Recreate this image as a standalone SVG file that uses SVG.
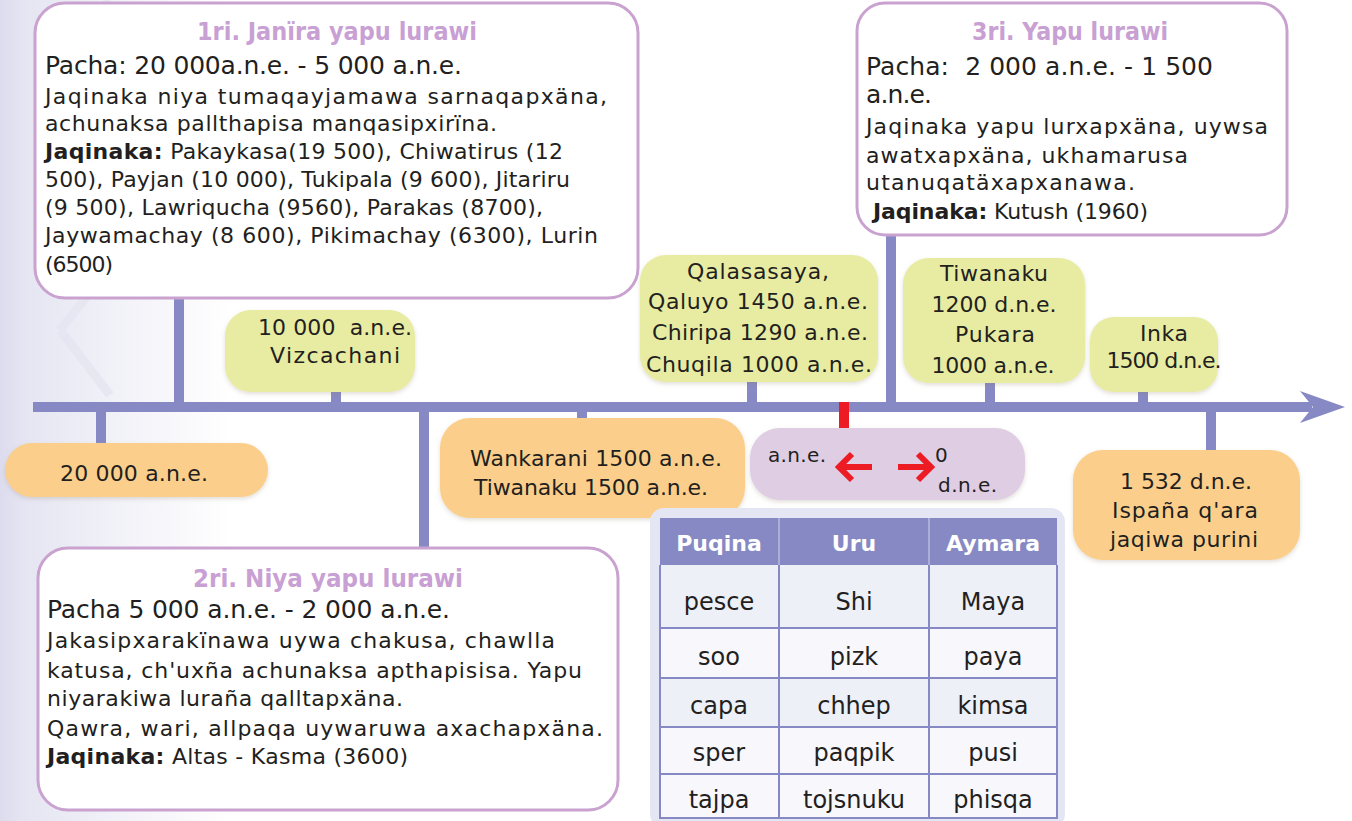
<svg xmlns="http://www.w3.org/2000/svg" width="1352" height="821" viewBox="0 0 1352 821">
<defs>
<linearGradient id="bgGrad" x1="0" y1="0" x2="1" y2="0">
<stop offset="0" stop-color="#dcdcee"/>
<stop offset="0.12" stop-color="#e6e6f3"/>
<stop offset="0.5" stop-color="#f1f1f8"/>
<stop offset="1" stop-color="#ffffff"/>
</linearGradient>
<filter id="soft" x="-10%" y="-10%" width="120%" height="130%">
<feDropShadow dx="0" dy="2" stdDeviation="2" flood-color="#8a7a60" flood-opacity="0.25"/>
</filter>
<style>
text{font-family:"DejaVu Sans","Liberation Sans",sans-serif;fill:#231f20}
.big{fill:#ffffff;stroke:#c9a2d0;stroke-width:3}
.title{fill:#c8a0d3;font-weight:bold;font-size:25px;text-anchor:middle}
.pacha{font-size:25px}
.body{font-size:22px}
.b{font-weight:bold}
.green{fill:#e8eca2}
.orange{fill:#fbcf8b}
.lbl{font-size:22px;text-anchor:middle}
.axis{fill:#8789c4}
.thead{fill:#8789c4}
.th{fill:#ffffff;font-weight:bold;font-size:22px;text-anchor:middle}
.td{font-size:24px;text-anchor:middle}
.grid{stroke:#8789c4;stroke-width:2;fill:none}
.redarrow{stroke:#ed1c24;stroke-width:6;fill:none}
.deco{fill:none;stroke:#e6e6f2;stroke-width:9;opacity:0.8}
</style>
</defs>

<rect x="0" y="0" width="1352" height="821" fill="#ffffff"/>
<rect x="0" y="0" width="230" height="821" fill="url(#bgGrad)"/>
<g class="deco">
<path d="M70,40 L110,0 M70,40 L130,110"/>
<path d="M100,150 L60,200 L100,250 L140,200 Z"/>
<path d="M60,330 L100,280 M60,330 L110,395"/>
<path d="M90,560 L50,610 L90,660 L130,610 Z"/>
<path d="M60,740 L100,690 M60,740 L110,810"/>
</g>

<g id="connectors">
<rect class="axis" x="33" y="402" width="1279" height="10"/>
<polygon class="axis" points="1300,391 1345,407 1300,423 1313,407"/>
<rect class="axis" x="174" y="296" width="10" height="108"/>
<rect class="axis" x="96" y="410" width="10" height="35"/>
<rect class="axis" x="331" y="390" width="10" height="14"/>
<rect class="axis" x="419" y="410" width="10" height="140"/>
<rect class="axis" x="577" y="410" width="10" height="10"/>
<rect class="axis" x="747" y="380" width="10" height="24"/>
<rect class="axis" x="886" y="233" width="10" height="171"/>
<rect class="axis" x="985" y="381" width="10" height="23"/>
<rect class="axis" x="1138" y="390" width="10" height="14"/>
<rect class="axis" x="1206" y="410" width="10" height="42"/>
<rect x="839" y="402" width="10" height="28" fill="#ed1c24"/>
</g>

<g id="node-period1">
<rect class="big" x="35" y="3" width="603" height="295" rx="30"/>
<text class="title" x="337" y="40" textLength="280" lengthAdjust="spacingAndGlyphs">1ri. Janïra yapu lurawi</text>
<text class="pacha" x="45" y="74" textLength="417">Pacha: 20 000a.n.e. - 5 000 a.n.e.</text>
<text class="body" x="45" y="104" textLength="562">Jaqinaka niya tumaqayjamawa sarnaqapxäna,</text>
<text class="body" x="45" y="131" textLength="452">achunaksa pallthapisa manqasipxirïna.</text>
<text class="body" x="45" y="159" textLength="518"><tspan class="b">Jaqinaka:</tspan> Pakaykasa(19 500), Chiwatirus (12</text>
<text class="body" x="45" y="187" textLength="525">500), Payjan (10 000), Tukipala (9 600), Jitariru</text>
<text class="body" x="45" y="215" textLength="498">(9 500), Lawriqucha (9560), Parakas (8700),</text>
<text class="body" x="45" y="243" textLength="553">Jaywamachay (8 600), Pikimachay (6300), Lurin</text>
<text class="body" x="45" y="272" textLength="68">(6500)</text>
</g>

<g id="node-period3">
<rect class="big" x="857" y="3" width="430" height="232" rx="28"/>
<text class="title" x="1070" y="40" textLength="196" lengthAdjust="spacingAndGlyphs">3ri. Yapu lurawi</text>
<text class="pacha" x="866" y="75" textLength="347" xml:space="preserve">Pacha:  2 000 a.n.e. - 1 500</text>
<text class="pacha" x="866" y="103" textLength="66">a.n.e.</text>
<text class="body" x="866" y="134" textLength="402">Jaqinaka yapu lurxapxäna, uywsa</text>
<text class="body" x="866" y="163" textLength="322">awatxapxäna, ukhamarusa</text>
<text class="body" x="866" y="190" textLength="269">utanuqatäxapxanawa.</text>
<text class="body" x="873" y="219" textLength="275"><tspan class="b">Jaqinaka:</tspan> Kutush (1960)</text>
</g>

<g id="node-period2">
<rect class="big" x="38" y="548" width="580" height="262" rx="30"/>
<text class="title" x="328" y="587" textLength="270" lengthAdjust="spacingAndGlyphs">2ri. Niya yapu lurawi</text>
<text class="pacha" x="47" y="618" textLength="403">Pacha 5 000 a.n.e. - 2 000 a.n.e.</text>
<text class="body" x="47" y="648" textLength="508">Jakasipxarakïnawa uywa chakusa, chawlla</text>
<text class="body" x="47" y="678" textLength="535">katusa, ch'uxña achunaksa apthapisisa. Yapu</text>
<text class="body" x="47" y="706" textLength="356">niyarakiwa luraña qalltapxäna.</text>
<text class="body" x="47" y="736" textLength="556">Qawra, wari, allpaqa uywaruwa axachapxäna.</text>
<text class="body" x="47" y="764" textLength="361"><tspan class="b">Jaqinaka:</tspan> Altas - Kasma (3600)</text>
</g>

<g id="node-vizcachani">
<rect class="green" x="225" y="310" width="190" height="82" rx="26" filter="url(#soft)"/>
<text class="lbl" x="335" y="335" textLength="154" xml:space="preserve">10 000  a.n.e.</text>
<text class="lbl" x="335" y="363" textLength="130">Vizcachani</text>
</g>

<g id="node-qalasasaya">
<rect class="green" x="640" y="255" width="238" height="127" rx="26" filter="url(#soft)"/>
<text class="lbl" x="758" y="279" textLength="142">Qalasasaya,</text>
<text class="lbl" x="758" y="309" textLength="220">Qaluyo 1450 a.n.e.</text>
<text class="lbl" x="760" y="340" textLength="216">Chiripa 1290 a.n.e.</text>
<text class="lbl" x="759" y="372" textLength="226">Chuqila 1000 a.n.e.</text>
</g>

<g id="node-tiwanaku">
<rect class="green" x="903" y="258" width="182" height="125" rx="26" filter="url(#soft)"/>
<text class="lbl" x="994" y="281" textLength="108">Tiwanaku</text>
<text class="lbl" x="994" y="312" textLength="125">1200 d.n.e.</text>
<text class="lbl" x="995" y="342" textLength="80">Pukara</text>
<text class="lbl" x="993" y="373" textLength="123">1000 a.n.e.</text>
</g>

<g id="node-inka">
<rect class="green" x="1090" y="317" width="128" height="75" rx="24" filter="url(#soft)"/>
<text class="lbl" x="1164" y="341" textLength="48">Inka</text>
<text class="lbl" x="1164" y="368" textLength="115">1500 d.n.e.</text>
</g>

<g id="node-20000">
<rect class="orange" x="5" y="443" width="263" height="54" rx="27" filter="url(#soft)"/>
<text class="lbl" x="134" y="481" textLength="148">20 000 a.n.e.</text>
</g>

<g id="node-wankarani">
<rect class="orange" x="440" y="418" width="305" height="100" rx="30" filter="url(#soft)"/>
<text class="lbl" x="596" y="466" textLength="252">Wankarani 1500 a.n.e.</text>
<text class="lbl" x="591" y="495" textLength="234">Tiwanaku 1500 a.n.e.</text>
</g>

<g id="node-zero">
<rect x="750" y="428" width="275" height="72" rx="30" fill="#dfcde4" filter="url(#soft)"/>
<text x="768" y="462" font-size="20" textLength="58">a.n.e.</text>
<text x="935" y="462" font-size="20">0</text>
<text x="938" y="492" font-size="20" textLength="59">d.n.e.</text>
<path class="redarrow" d="M872,467 H840 M852,454 L839,467 L852,480"/>
<path class="redarrow" d="M898,467 H930 M918,454 L931,467 L918,480"/>
</g>

<g id="node-1532">
<rect class="orange" x="1073" y="450" width="227" height="110" rx="30" filter="url(#soft)"/>
<text class="lbl" x="1186" y="489" textLength="132">1 532 d.n.e.</text>
<text class="lbl" x="1185" y="518" textLength="146">Ispaña q'ara</text>
<text class="lbl" x="1184" y="547" textLength="148">jaqiwa purini</text>
</g>

<g id="node-table">
<rect x="650" y="508" width="415" height="320" rx="14" fill="#e5e6f3"/>
<rect class="thead" x="660" y="518" width="397" height="47"/>
<rect x="660" y="565" width="397" height="63" fill="#eef0f8"/>
<rect x="660" y="628" width="397" height="50" fill="#f7f7fc"/>
<rect x="660" y="678" width="397" height="49" fill="#eef0f8"/>
<rect x="660" y="727" width="397" height="47" fill="#f7f7fc"/>
<rect x="660" y="774" width="397" height="44" fill="#f7f7fc"/>
<path class="grid" d="M660,565 V818 H1057 V565 M660,628 H1057 M660,678 H1057 M660,727 H1057 M660,774 H1057 M779,565 V818 M929,565 V818"/>
<path d="M779,518 V565 M929,518 V565" stroke="#b9bae0" stroke-width="1.5"/>
<text class="th" x="719" y="551">Puqina</text>
<text class="th" x="854" y="551">Uru</text>
<text class="th" x="993" y="551">Aymara</text>
<text class="td" x="719" y="610">pesce</text>
<text class="td" x="854" y="610">Shi</text>
<text class="td" x="993" y="610">Maya</text>
<text class="td" x="719" y="665">soo</text>
<text class="td" x="854" y="665">pizk</text>
<text class="td" x="993" y="665">paya</text>
<text class="td" x="719" y="714">capa</text>
<text class="td" x="854" y="714">chhep</text>
<text class="td" x="993" y="714">kimsa</text>
<text class="td" x="719" y="761">sper</text>
<text class="td" x="854" y="761">paqpik</text>
<text class="td" x="993" y="761">pusi</text>
<text class="td" x="719" y="808">tajpa</text>
<text class="td" x="854" y="808">tojsnuku</text>
<text class="td" x="993" y="808">phisqa</text>
</g>
</svg>
